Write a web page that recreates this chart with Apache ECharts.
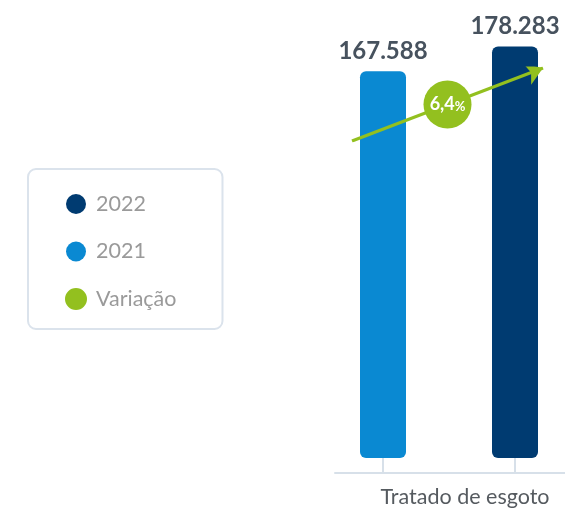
<!DOCTYPE html>
<html><head><meta charset="utf-8">
<script src="https://cdn.jsdelivr.net/npm/echarts@6/dist/echarts.min.js"></script>
<style>html,body{margin:0;padding:0;background:#fff}#c{width:565px;height:508px}</style>
</head><body><div id="c"></div>
<script>
var categories = ['2021', '2022'];
var values2021 = [167588, '-'];
var values2022 = ['-', 178283];
var axisCategory = ['Tratado de esgoto'];
var variationLabel = '6,4';
var legendNames = ['2022', '2021', 'Variação'];

var C21 = '#0a89d2', C22 = '#003b71', CV = '#93c01f';
function fmt(v){ return String(v).replace(/\B(?=(\d{3})+(?!\d))/g, '.'); }
var v21 = values2021[0], v22 = values2022[1];

var chart = echarts.init(document.getElementById('c'));
chart.setOption({
  animation: false,
  textStyle: { fontFamily: 'Lato' },
  legend: {
    data: legendNames, orient: 'vertical', left: 28, top: 169,
    padding: [24, 46, 19, 37], itemGap: 25.5,
    itemWidth: 20, itemHeight: 20, icon: 'circle',
    borderColor: '#dbe3ec', borderWidth: 2, borderRadius: 8,
    textStyle: { color: '#9a9a9a', fontSize: 21.5, fontFamily: 'Lato', padding: [0,0,0,5] }
  },
  grid: [
    { left: 317, width: 264, top: 19.5, bottom: 35, outerBoundsMode: 'none' },
    { left: 335, right: -30, bottom: 35, height: 10, outerBoundsMode: 'none' },
    { left: 352, width: 191, top: 68, height: 73, outerBoundsMode: 'none' }
  ],
  xAxis: [
    { gridIndex: 0, type: 'category', data: categories,
      axisLine: { show: false, onZero: false }, axisLabel: { show: false },
      axisTick: { show: true, inside: true, length: 15, alignWithLabel: true,
        lineStyle: { color: '#d7e0e9', width: 2 } } },
    { gridIndex: 1, type: 'category', data: axisCategory,
      axisLine: { show: true, lineStyle: { color: '#d7e0e9', width: 2 } },
      axisTick: { show: false },
      axisLabel: { color: '#555a5f', fontSize: 21.5, margin: 13, fontFamily: 'Lato' } },
    { gridIndex: 2, type: 'value', min: 0, max: 1, show: false }
  ],
  yAxis: [
    { gridIndex: 0, type: 'value', min: -6500, max: 190000, show: false },
    { gridIndex: 1, type: 'value', show: false },
    { gridIndex: 2, type: 'value', min: v21, max: v22, show: false }
  ],
  series: [
    { name: '2021', type: 'bar', stack: 'a', data: values2021, barWidth: 46,
      itemStyle: { color: C21, borderRadius: 6 },
      label: { show: true, position: 'top', distance: 8, formatter: function(p){ return fmt(p.value); },
        color: '#47525e', fontSize: 24, fontWeight: 'bold', fontFamily: 'Lato' } },
    { name: '2022', type: 'bar', stack: 'a', data: values2022, barWidth: 46,
      itemStyle: { color: C22, borderRadius: 6 },
      label: { show: true, position: 'top', distance: 8, formatter: function(p){ return fmt(p.value); },
        color: '#47525e', fontSize: 24, fontWeight: 'bold', fontFamily: 'Lato' } },
    { name: 'Variação', type: 'lines', coordinateSystem: 'cartesian2d', xAxisIndex: 2, yAxisIndex: 2,
      symbol: ['none', 'arrow'], symbolSize: 17, z: 5,
      lineStyle: { color: CV, width: 3, opacity: 1 }, itemStyle: { color: CV },
      data: [{ coords: [[0, v21], [1, v22]] }] },
    { name: 'Variação', type: 'scatter', xAxisIndex: 2, yAxisIndex: 2, symbolSize: 48, z: 6,
      itemStyle: { color: CV, opacity: 1 },
      label: { show: true, position: 'inside', formatter: '{a|' + variationLabel + '}{b|%}',
        rich: { a: { color: '#fff', fontSize: 18, fontWeight: 'bold', fontFamily: 'Lato' },
                b: { color: '#fff', fontSize: 13, fontWeight: 'bold', fontFamily: 'Lato', padding: [4,0,0,0] } } },
      data: [[0.5, (v21 + v22) / 2]] }
  ]
});
</script></body></html>
